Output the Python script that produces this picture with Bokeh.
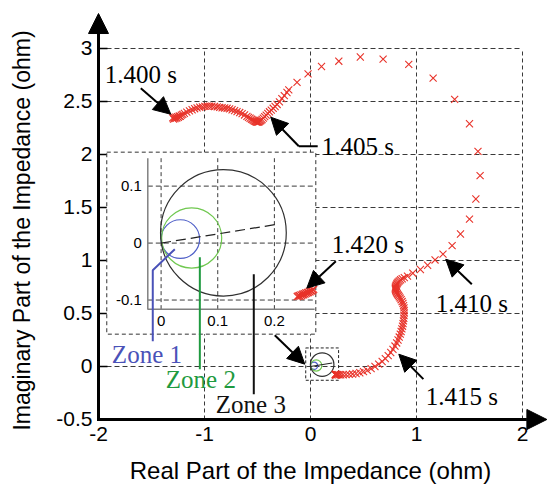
import math

from bokeh.plotting import figure
from bokeh.models import Range1d, Arrow, NormalHead, Label
from bokeh.embed import file_html
from bokeh.resources import INLINE
from bokeh.core.properties import value

# ---------------------------------------------------------------- data
# apparent impedance seen by the relay, 1.400 s ... 1.420 s (ohm)
traj_re = [
    -1.300, -1.292, -1.285, -1.278, -1.270, -1.262, -1.255, -1.246, -1.238, -1.228,
    -1.218, -1.205, -1.190, -1.167, -1.142, -1.117, -1.093, -1.070, -1.045, -1.020,
    -0.997, -0.975, -0.952, -0.930, -0.905, -0.880, -0.857, -0.834, -0.810, -0.787,
    -0.763, -0.740, -0.716, -0.693, -0.668, -0.645, -0.622, -0.600, -0.585, -0.570,
    -0.556, -0.545, -0.535, -0.526, -0.518, -0.510, -0.502, -0.494, -0.486, -0.478,
    -0.468, -0.457, -0.445, -0.432, -0.418, -0.403, -0.387, -0.370, -0.352, -0.334,
    -0.315, -0.293, -0.270, -0.247, -0.222, -0.205, -0.127, -0.023, 0.104, 0.267,
    0.470, 0.685, 0.927, 1.157, 1.360, 1.500, 1.580, 1.600, 1.560, 1.500,
    1.415, 1.336, 1.250, 1.175, 1.105, 1.037, 0.965, 0.915, 0.885, 0.865,
    0.850, 0.838, 0.828, 0.820, 0.814, 0.808, 0.804, 0.801, 0.800, 0.801,
    0.804, 0.808, 0.813, 0.818, 0.824, 0.831, 0.838, 0.846, 0.855, 0.864,
    0.872, 0.878, 0.882, 0.884, 0.884, 0.882, 0.880, 0.877, 0.873, 0.868,
    0.862, 0.855, 0.847, 0.837, 0.826, 0.813, 0.797, 0.778, 0.757, 0.733,
    0.706, 0.676, 0.643, 0.608, 0.572, 0.536, 0.500, 0.465, 0.430, 0.397,
    0.365, 0.335, 0.308, 0.285, 0.268, 0.256, 0.248, 0.242, 0.238, 0.235,
    0.233, 0.236, 0.240, 0.238,
    -0.125, -0.115, -0.105, -0.098, -0.090, -0.082, -0.075, -0.066, -0.060, -0.052,
    -0.045, -0.036, -0.028, -0.020, -0.012, -0.004, 0.005, 0.014, 0.022, 0.030,
]
traj_im = [
    2.345, 2.335, 2.350, 2.338, 2.352, 2.343, 2.357, 2.350, 2.363, 2.360,
    2.372, 2.378, 2.388, 2.400, 2.412, 2.422, 2.432, 2.440, 2.446, 2.450,
    2.454, 2.456, 2.457, 2.456, 2.453, 2.449, 2.445, 2.441, 2.439, 2.436,
    2.430, 2.422, 2.414, 2.405, 2.396, 2.386, 2.373, 2.360, 2.350, 2.342,
    2.333, 2.326, 2.320, 2.315, 2.310, 2.307, 2.305, 2.306, 2.309, 2.314,
    2.321, 2.330, 2.343, 2.357, 2.372, 2.388, 2.403, 2.419, 2.436, 2.453,
    2.472, 2.497, 2.527, 2.555, 2.585, 2.610, 2.680, 2.760, 2.830, 2.880,
    2.920, 2.900, 2.850, 2.720, 2.520, 2.290, 2.030, 1.800, 1.580, 1.390,
    1.250, 1.140, 1.060, 1.005, 0.955, 0.915, 0.880, 0.853, 0.838, 0.828,
    0.818, 0.808, 0.798, 0.788, 0.778, 0.768, 0.758, 0.748, 0.738, 0.728,
    0.718, 0.708, 0.698, 0.688, 0.678, 0.668, 0.657, 0.645, 0.630, 0.613,
    0.595, 0.575, 0.553, 0.530, 0.505, 0.480, 0.455, 0.430, 0.405, 0.380,
    0.355, 0.330, 0.305, 0.278, 0.250, 0.222, 0.193, 0.162, 0.132, 0.103,
    0.074, 0.047, 0.022, 0.000, -0.020, -0.036, -0.049, -0.059, -0.066, -0.071,
    -0.075, -0.077, -0.078, -0.078, -0.078, -0.077, -0.076, -0.076, -0.077, -0.078,
    -0.076, -0.074, -0.080, -0.072,
    0.660, 0.665, 0.670, 0.662, 0.676, 0.670, 0.682, 0.676, 0.688, 0.684,
    0.694, 0.690, 0.700, 0.697, 0.708, 0.704, 0.714, 0.712, 0.722, 0.727,
]

x_ticks = [-2, -1, 0, 1, 2]
x_tick_labels = ["-2", "-1", "0", "1", "2"]
y_ticks = [-0.5, 0, 0.5, 1, 1.5, 2, 2.5, 3]
y_tick_labels = ["-0.5", "0", "0.5", "1", "1.5", "2", "2.5", "3"]

# mho relay zones: centre (re, im) and radius, ohm
zone_names = ["Zone 1", "Zone 2", "Zone 3"]
zone_cx = [0.034, 0.054, 0.110]
zone_cy = [0.007, 0.009, 0.018]
zone_r = [0.034, 0.053, 0.111]
zone_line_colors = ["#5060c8", "#70c850", "#303030"]
zone_text_colors = ["#4a52b8", "#1f9a40", "#111111"]

# protected line impedance direction
line_re = [0.0, 0.205]
line_im = [0.0, 0.033]

# zoomed view around the origin
zoom_xlim = (-0.0235, 0.266)
zoom_ylim = (-0.116, 0.149)
zoom_x_ticks = [0, 0.1, 0.2]
zoom_x_labels = ["0", "0.1", "0.2"]
zoom_y_ticks = [-0.1, 0, 0.1]
zoom_y_labels = ["-0.1", "0", "0.1"]

time_labels = ["1.400 s", "1.405 s", "1.410 s", "1.415 s", "1.420 s"]

# ---------------------------------------------------------------- layout constants
W, H = 560, 487
AX_X, AX_Y = -2.0, -0.5            # where the two axes cross
X_MIN, X_MAX = -2.92453, 2.35849   # whole canvas is the plotting frame
Y_MIN, Y_MAX = -1.14151, 3.45283
GRID_X_END, GRID_Y_END = 2.0, 3.0
X_TIP, Y_TIP = 2.23, 3.33          # arrow tips of the axes
TICK = 0.085                       # inward tick length (axis units)

# where the zoomed axes sit inside the main plot (main-axis units)
INSET_AX = dict(left=-1.535, right=0.012, bottom=0.541, top=1.965)
INSET_BOX = dict(left=-1.922, right=0.050, bottom=0.305, top=2.022)
# small window around the origin that the inset enlarges
ZOOM_WIN = dict(left=-0.045, right=0.265, bottom=-0.13, top=0.175)

RED = "#e8332a"
GRID = "#3a3a3a"
SANS = "Liberation Sans"
SERIF = "Liberation Serif"


def lin(v, a0, a1, b0, b1):
    return b0 + (v - a0) * (b1 - b0) / (a1 - a0)


p = figure(width=W, height=H,
           x_range=Range1d(X_MIN, X_MAX), y_range=Range1d(Y_MIN, Y_MAX),
           x_axis_type=None, y_axis_type=None,
           output_backend="svg", toolbar_location=None,
           min_border=0)
p.outline_line_color = None
p.grid.visible = False
p.background_fill_color = "white"
p.border_fill_color = "white"

# secondary ranges that map the zoomed data onto the inset box
p.extra_x_ranges = {"zx": Range1d(
    lin(X_MIN, INSET_AX["left"], INSET_AX["right"], *zoom_xlim),
    lin(X_MAX, INSET_AX["left"], INSET_AX["right"], *zoom_xlim))}
p.extra_y_ranges = {"zy": Range1d(
    lin(Y_MIN, INSET_AX["bottom"], INSET_AX["top"], *zoom_ylim),
    lin(Y_MAX, INSET_AX["bottom"], INSET_AX["top"], *zoom_ylim))}
Z = dict(x_range_name="zx", y_range_name="zy")

# ---------------------------------------------------------------- dashed grid bounded by the outer box
gx = [t for t in x_ticks if t > AX_X]
gy = [t for t in y_ticks if t > AX_Y]
p.segment(x0=gx, y0=[AX_Y] * len(gx), x1=gx, y1=[GRID_Y_END] * len(gx),
          line_color=GRID, line_dash="4 3", line_width=1)
p.segment(x0=[AX_X] * len(gy), y0=gy, x1=[GRID_X_END] * len(gy), y1=gy,
          line_color=GRID, line_dash="5 3", line_width=1.2)

# ---------------------------------------------------------------- axes: ticks, labels, titles
p.segment(x0=[AX_X] * len(gy), y0=gy, x1=[AX_X + TICK] * len(gy), y1=gy,
          line_color="black", line_width=1.5)
p.text(x=[AX_X] * len(y_ticks), y=y_ticks, text=y_tick_labels,
       text_align="right", text_baseline="middle", x_offset=-6,
       text_font=value(SANS), text_font_size="21px", text_color="black")
p.text(x=x_ticks, y=[AX_Y] * len(x_ticks), text=x_tick_labels,
       text_align="center", text_baseline="top", y_offset=8,
       text_font=value(SANS), text_font_size="21px", text_color="black")
p.add_layout(Label(x=0.0, y=-0.981, text="Real Part of the Impedance (ohm)",
                   text_align="center", text_baseline="middle",
                   text_font=SANS, text_font_size="24px", text_color="black"))
p.add_layout(Label(x=-2.717, y=1.283, text="Imaginary Part of the Impedance (ohm)",
                   angle=math.pi / 2, text_align="center", text_baseline="middle",
                   text_font=SANS, text_font_size="23px", text_color="black"))

# ---------------------------------------------------------------- small window at the origin
p.quad(left=[ZOOM_WIN["left"]], right=[ZOOM_WIN["right"]],
       bottom=[ZOOM_WIN["bottom"]], top=[ZOOM_WIN["top"]],
       fill_color=None, line_color="#222222", line_dash="3 2", line_width=1)
p.ellipse(x=zone_cx, y=zone_cy, width=[2 * r for r in zone_r], height=[2 * r for r in zone_r],
          fill_color=None, line_color=zone_line_colors, line_width=1.2)
p.line(x=line_re, y=line_im, line_color="#222222", line_width=1)

# ---------------------------------------------------------------- inset
p.quad(left=[INSET_BOX["left"]], right=[INSET_BOX["right"]],
       bottom=[INSET_BOX["bottom"]], top=[INSET_BOX["top"]],
       fill_color="white", line_color="#333333", line_dash="4 3", line_width=1)

p.segment(x0=zoom_x_ticks, y0=[zoom_ylim[0]] * 3, x1=zoom_x_ticks, y1=[zoom_ylim[1]] * 3,
          line_color=GRID, line_dash="4 3", line_width=1, **Z)
p.segment(x0=[zoom_xlim[0]] * 3, y0=zoom_y_ticks, x1=[zoom_xlim[1] + 0.005] * 3, y1=zoom_y_ticks,
          line_color=GRID, line_dash="5 3", line_width=1, **Z)
p.line(x=[zoom_xlim[0], zoom_xlim[0], zoom_xlim[1] + 0.005],
       y=[zoom_ylim[1], zoom_ylim[0], zoom_ylim[0]],
       line_color="#808080", line_width=1.5, **Z)
p.text(x=zoom_x_ticks, y=[zoom_ylim[0]] * 3, text=zoom_x_labels,
       text_align="center", text_baseline="top", y_offset=7,
       text_font=value(SANS), text_font_size="15px", text_color="black", **Z)
p.text(x=[zoom_xlim[0]] * 3, y=zoom_y_ticks, text=zoom_y_labels,
       text_align="right", text_baseline="middle", x_offset=-6,
       text_font=value(SANS), text_font_size="15px", text_color="black", **Z)

p.ellipse(x=zone_cx, y=zone_cy, width=[2 * r for r in zone_r], height=[2 * r for r in zone_r],
          fill_color=None, line_color=zone_line_colors, line_width=1.2, **Z)
p.line(x=line_re, y=line_im, line_color="#222222", line_width=1.2, line_dash="10 5", **Z)

# zone call-outs
p.line(x=[-1.488, -1.488, -1.280], y=[0.239, 0.908, 1.107], line_color=zone_text_colors[0], line_width=2)
p.line(x=[-1.044, -1.044], y=[1.031, -0.025], line_color=zone_text_colors[1], line_width=2)
p.line(x=[-0.535, -0.535], y=[0.871, -0.261], line_color=zone_text_colors[2], line_width=2)
for name, color, (lx, ly) in zip(zone_names, zone_text_colors,
                                 [(-1.874, 0.116), (-1.365, -0.120), (-0.893, -0.356)]):
    p.add_layout(Label(x=lx, y=ly, text=name, text_color=color, text_font=SERIF,
                       text_font_size="25px", text_baseline="middle"))

# ---------------------------------------------------------------- trajectory
p.scatter(x=traj_re, y=traj_im, marker="x", size=10, line_color=RED, line_width=1.1)

# ---------------------------------------------------------------- time stamps
time_pos = [(-1.94, 2.757), (0.106, 2.078), (1.182, 0.597), (1.088, -0.280), (0.200, 1.154)]
for t, (lx, ly) in zip(time_labels, time_pos):
    p.add_layout(Label(x=lx, y=ly, text=t, text_color="black", text_font=SERIF,
                       text_font_size="25px", text_baseline="middle"))

p.line(x=[0.068, -0.110], y=[2.078, 2.078], line_color="black", line_width=2)
pointers = [
    ((-1.601, 2.625), (-1.318, 2.380)),
    ((-0.110, 2.078), (-0.375, 2.352)),
    ((1.522, 0.776), (1.276, 1.012)),
    ((1.065, -0.119), (0.833, 0.116)),
    ((0.239, 0.993), (-0.035, 0.739)),
    ((-0.337, 0.295), (-0.054, 0.022)),
]
for (x0, y0), (x1, y1) in pointers:
    p.add_layout(Arrow(x_start=x0, y_start=y0, x_end=x1, y_end=y1, line_width=2,
                       line_color="black",
                       end=NormalHead(size=17, fill_color="black", line_color="black")))

# ---------------------------------------------------------------- axis lines with arrow heads
p.add_layout(Arrow(x_start=AX_X, y_start=AX_Y - 0.014, x_end=AX_X, y_end=Y_TIP, line_width=3,
                   line_color="black",
                   end=NormalHead(size=20, fill_color="black", line_color="black")))
p.add_layout(Arrow(x_start=AX_X - 0.014, y_start=AX_Y, x_end=X_TIP, y_end=AX_Y, line_width=3,
                   line_color="black",
                   end=NormalHead(size=20, fill_color="black", line_color="black")))

open("out.html", "w").write(file_html(p, INLINE))
